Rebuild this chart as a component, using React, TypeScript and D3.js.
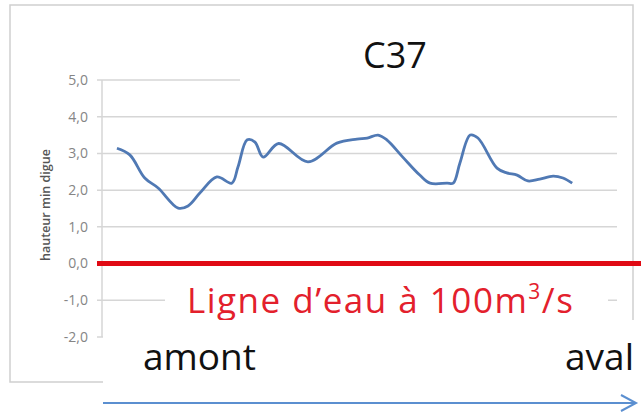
import React from "react";
import * as d3 from "d3";

// position along the dike (0 = amont, 100 = aval) and min dike height (m)
const positions = [
  2.9, 5.4, 8.3, 10.9, 14.8, 16.7, 19.0, 22.3, 25.2, 26.4, 28.2, 29.7, 31.3,
  34.3, 40.0, 45.6, 49.5, 51.5, 53.6, 55.3, 58.4, 61.7, 63.7, 67.0, 68.2,
  69.5, 71.5, 73.0, 76.7, 78.6, 80.6, 82.7, 85.0, 87.6, 89.5, 91.3,
];
const heights = [
  3.14, 2.96, 2.33, 2.06, 1.51, 1.57, 1.92, 2.36, 2.19, 2.63, 3.37, 3.31, 2.9,
  3.27, 2.77, 3.28, 3.39, 3.42, 3.5, 3.37, 2.9, 2.41, 2.19, 2.19, 2.19, 2.74,
  3.5, 3.42, 2.6, 2.47, 2.41, 2.25, 2.3, 2.38, 2.33, 2.19,
];
const yTicks = [5, 4, 3, 2, 1, 0, -1, -2];

const title = "C37";
const yLabel = "hauteur min digue";
const waterLabel = "Ligne d\u2019eau \u00e0 100m";
const waterUnit = "3";
const waterTail = "/s";
const upstream = "amont";
const downstream = "aval";

const W = 641;
const H = 419;
const font = "'Open Sans', 'Noto Sans', sans-serif";

export default function App() {
  const x = d3.scaleLinear().domain([0, 100]).range([102, 617]);
  const y = d3.scaleLinear().domain([-2, 5]).range([337, 80]);

  const data = positions.map((p, i) => ({ p, h: heights[i] }));
  const line = d3
    .line<{ p: number; h: number }>()
    .x((d) => x(d.p))
    .y((d) => y(d.h))
    .curve(d3.curveCatmullRom.alpha(0.5));

  const fmt = (v: number) => v.toFixed(1).replace(".", ",");
  const y0 = y(0);

  return (
    <svg
      width={W}
      height={H}
      style={{ position: "absolute", left: 0, top: 0, background: "#fff" }}
    >
      <rect x={0} y={0} width={W} height={H} fill="#fff" />
      {/* chart frame */}
      <rect x={10} y={5} width={623} height={377} fill="#fff" stroke="#cfcfcf" strokeWidth={1.5} />

      {/* gridlines */}
      {yTicks.map((t) => (
        <line key={t} x1={97} x2={617} y1={y(t)} y2={y(t)} stroke="#d6d6d6" strokeWidth={1.5} />
      ))}
      <line x1={102} x2={102} y1={y(5)} y2={y(-2)} stroke="#d6d6d6" strokeWidth={1.5} />

      {yTicks.map((t) => (
        <text
          key={"l" + t}
          x={88}
          y={y(t)}
          dy="0.35em"
          textAnchor="end"
          fontFamily={font}
          fontSize={14}
          fill="#858585"
        >
          {fmt(t)}
        </text>
      ))}

      <text
        transform="translate(50,205) rotate(-90)"
        textAnchor="middle"
        fontFamily={font}
        fontSize={12.5}
        fontWeight={600}
        fill="#555"
      >
        {yLabel}
      </text>

      <path d={line(data) || ""} fill="none" stroke="#5079b4" strokeWidth={2.8} strokeLinejoin="round" />

      {/* title box */}
      <rect x={240} y={20} width={382} height={78} fill="#fff" />
      <text x={395} y={68} textAnchor="middle" fontFamily={font} fontSize={36} fill="#111">
        {title}
      </text>

      {/* water level */}
      <rect x={165} y={278} width={443} height={40} fill="#fff" />
      <line x1={97} x2={W} y1={y0} y2={y0} stroke="#e00a14" strokeWidth={5} />
      <text x={187} y={313} fontFamily={font} fontSize={35} letterSpacing={1.5} fill="#e3202c">
        {waterLabel}
        <tspan fontSize={21} dy={-14}>{waterUnit}</tspan>
        <tspan dy={14}>{waterTail}</tspan>
      </text>

      {/* flow direction */}
      <rect x={103} y={320} width={W - 103} height={H - 320} fill="#fff" />
      <text x={143} y={370} fontFamily={font} fontSize={37} fill="#111">
        {upstream}
      </text>
      <text x={634} y={370} textAnchor="end" fontFamily={font} fontSize={37} fill="#111">
        {downstream}
      </text>
      <line x1={103} x2={636} y1={403} y2={403} stroke="#5b8fd0" strokeWidth={2} />
      <polyline points="621,395 636,403 621,411" fill="none" stroke="#5b8fd0" strokeWidth={2} />
    </svg>
  );
}
